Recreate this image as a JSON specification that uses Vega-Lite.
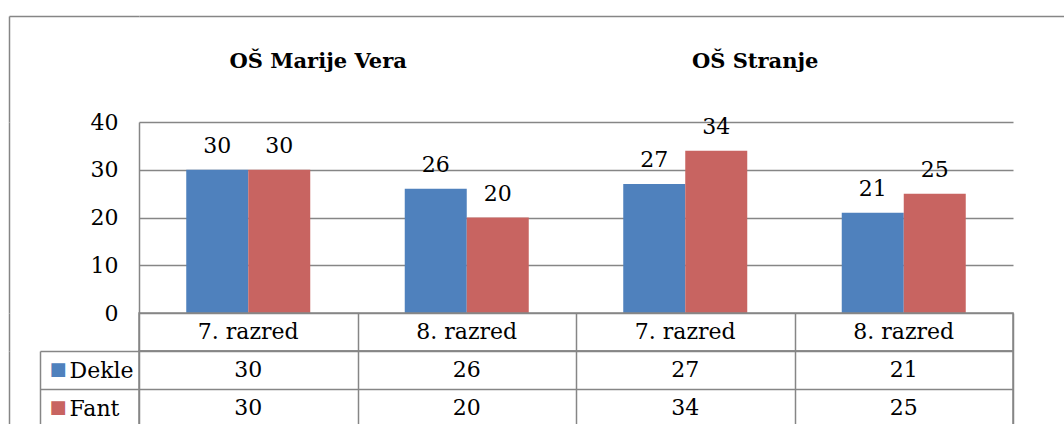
{
  "$schema": "https://vega.github.io/schema/vega-lite/v6.json",
  "padding": {"left": 8, "top": 15, "right": 0, "bottom": 0},
  "background": "white",
  "data": {"values": [
    {"sola": "OŠ Marije Vera", "razred": "7. razred", "skupina": "OŠ Marije Vera|7. razred", "spol": "Dekle", "n": 30},
    {"sola": "OŠ Marije Vera", "razred": "7. razred", "skupina": "OŠ Marije Vera|7. razred", "spol": "Fant", "n": 30},
    {"sola": "OŠ Marije Vera", "razred": "8. razred", "skupina": "OŠ Marije Vera|8. razred", "spol": "Dekle", "n": 26},
    {"sola": "OŠ Marije Vera", "razred": "8. razred", "skupina": "OŠ Marije Vera|8. razred", "spol": "Fant", "n": 20},
    {"sola": "OŠ Stranje", "razred": "7. razred", "skupina": "OŠ Stranje|7. razred", "spol": "Dekle", "n": 27},
    {"sola": "OŠ Stranje", "razred": "7. razred", "skupina": "OŠ Stranje|7. razred", "spol": "Fant", "n": 34},
    {"sola": "OŠ Stranje", "razred": "8. razred", "skupina": "OŠ Stranje|8. razred", "spol": "Dekle", "n": 21},
    {"sola": "OŠ Stranje", "razred": "8. razred", "skupina": "OŠ Stranje|8. razred", "spol": "Fant", "n": 25}
  ]},
  "config": {"view": {"stroke": null}, "font": "DejaVu Serif", "text": {"font": "DejaVu Serif"}, "axis": {"labelFont": "DejaVu Serif"}},
  "bounds": "flush",
  "spacing": 0,
  "vconcat": [
    {
      "width": 925, "height": 106,
      "transform": [{"filter": "datum.razred == '7. razred' && datum.spol == 'Dekle'"}],
      "layer": [
        {
          "mark": {"type": "text", "fontWeight": "bold", "fontSize": 21, "baseline": "alphabetic", "dy": -1, "font": "DejaVu Serif", "color": "#000"},
          "encoding": {
            "x": {"field": "skupina", "type": "nominal", "bandPosition": 0.82,
              "scale": {"type": "band", "domain": ["OŠ Marije Vera|7. razred", "OŠ Marije Vera|8. razred", "OŠ Stranje|7. razred", "OŠ Stranje|8. razred"], "paddingInner": 0, "paddingOuter": 0.1167, "align": 0},
              "axis": {"orient": "top", "domain": true, "domainColor": "#868686", "domainWidth": 1.5, "ticks": false, "labels": false, "grid": false, "title": null}},
            "y": {"field": "razred", "type": "nominal",
              "axis": {"orient": "left", "domain": false, "labels": false, "grid": false, "ticks": true, "tickSize": 130, "tickOffset": -53, "tickColor": "#868686", "tickWidth": 1.5, "title": null}},
            "text": {"field": "sola"}
          }
        },
        {
          "mark": {"type": "point", "opacity": 0},
          "encoding": {
            "x": {"field": "skupina", "type": "nominal"},
            "y": {"field": "razred", "type": "nominal",
              "axis": {"orient": "left", "offset": 130, "domain": true, "domainColor": "#868686", "domainWidth": 1.5, "labels": false, "ticks": false, "grid": false, "title": null}}
          }
        }
      ],
      "resolve": {"axis": {"y": "independent"}}
    },
    {
      "width": 874, "height": 191,
      "layer": [
        {
          "mark": {"type": "bar"},
          "encoding": {
            "x": {"field": "skupina", "type": "nominal",
              "scale": {"domain": ["OŠ Marije Vera|7. razred", "OŠ Marije Vera|8. razred", "OŠ Stranje|7. razred", "OŠ Stranje|8. razred"], "paddingInner": 0, "paddingOuter": 0},
              "axis": null},
            "xOffset": {"field": "spol", "type": "nominal", "scale": {"domain": ["Dekle", "Fant"], "paddingInner": 0, "paddingOuter": 0.762}},
            "y": {"field": "n", "type": "quantitative", "scale": {"domain": [0, 40], "nice": false},
              "axis": {"orient": "left", "values": [0, 10, 20, 30, 40], "domain": true, "domainColor": "#868686", "domainWidth": 1.5, "ticks": false, "grid": true, "gridColor": "#868686", "gridWidth": 1.5, "labelFont": "DejaVu Serif", "labelFontSize": 22, "labelColor": "#000", "labelPadding": 21, "title": null}},
            "color": {"field": "spol", "type": "nominal", "scale": {"domain": ["Dekle", "Fant"], "range": ["#4F81BD", "#C86461"]}, "legend": null}
          }
        },
        {
          "mark": {"type": "text", "fontSize": 22, "baseline": "alphabetic", "dy": -17, "font": "DejaVu Serif", "color": "#000"},
          "encoding": {
            "x": {"field": "skupina", "type": "nominal", "axis": null},
            "xOffset": {"field": "spol", "type": "nominal"},
            "y": {"field": "n", "type": "quantitative",
              "axis": {"orient": "left", "offset": 130, "domain": true, "domainColor": "#868686", "domainWidth": 1.5, "ticks": false, "labels": false, "grid": false, "title": null}},
            "text": {"field": "n"}
          }
        }
      ],
      "resolve": {"axis": {"y": "independent"}}
    },
    {
      "width": 874, "height": 38,
      "view": {"stroke": "#868686", "strokeWidth": 1.5},
      "transform": [{"filter": "datum.spol == 'Dekle'"}],
      "mark": {"type": "text", "fontSize": 22, "baseline": "middle", "font": "DejaVu Serif", "color": "#000"},
      "encoding": {
        "x": {"field": "skupina", "type": "nominal",
          "scale": {"type": "band", "domain": ["OŠ Marije Vera|7. razred", "OŠ Marije Vera|8. razred", "OŠ Stranje|7. razred", "OŠ Stranje|8. razred"], "paddingInner": 0, "paddingOuter": 0},
          "axis": {"domain": false, "ticks": false, "labels": false, "grid": true, "tickBand": "extent", "gridColor": "#868686", "gridWidth": 1.5, "title": null}},
        "y": {"field": "spol", "type": "nominal", "scale": {"type": "band", "paddingInner": 0, "paddingOuter": 0},
          "axis": {"orient": "left", "offset": 130, "domain": true, "domainColor": "#868686", "domainWidth": 1.5, "ticks": false, "labels": false, "grid": false, "title": null}},
        "text": {"field": "razred"}
      }
    },
    {
      "width": 874, "height": 76,
      "view": {"stroke": "#868686", "strokeWidth": 1.5},
      "layer": [
        {
          "mark": {"type": "text", "fontSize": 22, "baseline": "middle", "font": "DejaVu Serif", "color": "#000"},
          "encoding": {
            "x": {"field": "skupina", "type": "nominal",
              "scale": {"type": "band", "domain": ["OŠ Marije Vera|7. razred", "OŠ Marije Vera|8. razred", "OŠ Stranje|7. razred", "OŠ Stranje|8. razred"], "paddingInner": 0, "paddingOuter": 0},
              "axis": {"domain": false, "ticks": false, "labels": false, "grid": true, "tickBand": "extent", "gridColor": "#868686", "gridWidth": 1.5, "title": null}},
            "y": {"field": "spol", "type": "nominal", "scale": {"type": "band", "domain": ["Dekle", "Fant"], "paddingInner": 0, "paddingOuter": 0},
              "axis": {"orient": "left", "domain": false, "ticks": true, "tickSize": 99, "tickBand": "extent", "tickColor": "#868686", "tickWidth": 1.5, "grid": true, "gridColor": "#868686", "gridWidth": 1.5, "labelAlign": "left", "labelBaseline": "middle", "labelPadding": -29, "labelFont": "DejaVu Serif", "labelFontSize": 22, "labelColor": "#000", "title": null}},
            "text": {"field": "n"}
          }
        },
        {
          "mark": {"type": "point", "opacity": 0},
          "encoding": {
            "x": {"field": "skupina", "type": "nominal"},
            "y": {"field": "spol", "type": "nominal",
              "axis": {"orient": "left", "offset": 99, "domain": true, "domainColor": "#868686", "domainWidth": 1.5, "ticks": false, "grid": false, "labelExpr": "'■'", "labelColor": {"condition": {"test": "datum.value == 'Dekle'", "value": "#4F81BD"}, "value": "#C86461"}, "labelFont": "DejaVu Sans", "labelFontSize": 18, "labelAlign": "left", "labelBaseline": "middle", "labelPadding": -9, "title": null}}
          }
        },
        {
          "mark": {"type": "point", "opacity": 0},
          "encoding": {
            "x": {"field": "skupina", "type": "nominal"},
            "y": {"field": "spol", "type": "nominal",
              "axis": {"orient": "left", "offset": 130, "domain": true, "domainColor": "#868686", "domainWidth": 1.5, "ticks": false, "labels": false, "grid": false, "title": null}}
          }
        }
      ],
      "resolve": {"axis": {"y": "independent"}}
    }
  ]
}
